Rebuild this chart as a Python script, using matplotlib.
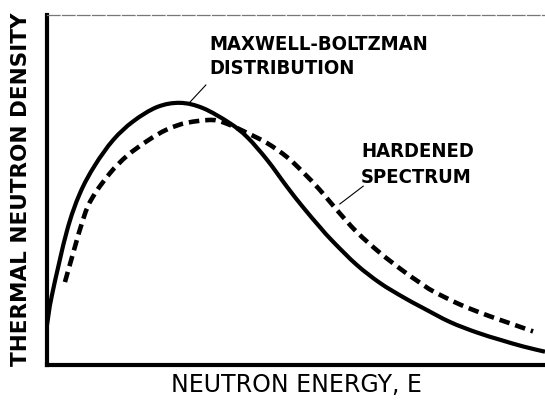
import matplotlib
matplotlib.use("Agg")
import matplotlib.pyplot as plt
from matplotlib.path import Path
from matplotlib.patches import PathPatch

# curves, in axis units (0-100 both ways)
mb_x = [0, 1.0, 4.0, 6.6, 9.6, 13.3, 17.3, 22.1, 26.7, 31.3, 36.7, 40.2, 44.2,
        48.2, 51.4, 54.8, 57.4, 62.2, 66.9, 71.5, 75.5, 80.9, 86.3, 91.0, 95.6, 100]
mb_y = [11.4, 20.0, 38.3, 49.0, 57.0, 64.3, 69.6, 73.7, 74.9, 73.4, 69.1, 65.1, 58.6,
        50.9, 45.1, 39.4, 35.3, 28.6, 23.4, 19.4, 16.3, 12.3, 9.3, 7.2, 5.3, 3.8]

hard_x = [3.6, 7.2, 9.2, 12.7, 16.1, 20.1, 24.1, 28.1, 33.3, 36.7, 40.2, 44.2, 48.2,
          51.4, 54.8, 58.2, 62.2, 66.9, 71.5, 74.9, 77.5, 82.9, 88.4, 93.0, 97.6]
hard_y = [23.7, 41.4, 48.0, 54.9, 59.8, 64.0, 67.3, 69.2, 70.0, 68.6, 66.3, 63.4, 59.4,
          55.1, 50.0, 44.3, 38.0, 32.0, 26.9, 23.5, 21.1, 17.3, 14.2, 11.9, 9.6]

mb_label = ["MAXWELL-BOLTZMAN", "DISTRIBUTION"]
hard_label = ["HARDENED", "SPECTRUM"]
x_label = "NEUTRON ENERGY, E"
y_label = "THERMAL NEUTRON DENSITY"


def smooth_path(xs, ys):
    # catmull-rom through the read points, drawn as cubic bezier pieces
    pts = list(zip(xs, ys))
    verts = [pts[0]]
    codes = [Path.MOVETO]
    for i in range(len(pts) - 1):
        p0 = pts[i - 1] if i > 0 else pts[i]
        p1, p2 = pts[i], pts[i + 1]
        p3 = pts[i + 2] if i + 2 < len(pts) else pts[i + 1]
        c1 = (p1[0] + (p2[0] - p0[0]) / 6, p1[1] + (p2[1] - p0[1]) / 6)
        c2 = (p2[0] - (p3[0] - p1[0]) / 6, p2[1] - (p3[1] - p1[1]) / 6)
        verts += [c1, c2, p2]
        codes += [Path.CURVE4] * 3
    return Path(verts, codes)


W, H = 545, 403
fig = plt.figure(figsize=(W / 100, H / 100), dpi=100)
ax = fig.add_axes([47 / W, 1 - 365 / H, 498 / W, 350 / H])
ax.set_xlim(0, 100)
ax.set_ylim(0, 100)

ax.add_patch(PathPatch(smooth_path(mb_x, mb_y), fill=False, color="black",
                       lw=3.0, joinstyle="round", clip_on=False))
ax.add_patch(PathPatch(smooth_path(hard_x, hard_y), fill=False, color="black",
                       lw=3.3, linestyle=(0, (2.3, 1.3))))

txt = dict(family="DejaVu Sans", fontstretch="condensed", fontweight="bold",
           fontsize=14.5, color="black", va="baseline", ha="left")
ax.text(32.7, 90.0, mb_label[0], **txt)
ax.text(32.7, 83.1, mb_label[1], **txt)
ax.text(63.1, 59.4, hard_label[0], **txt)
ax.text(63.1, 52.0, hard_label[1], **txt)

# leader lines
ax.plot([28.7, 31.9], [75.1, 80.0], color="black", lw=0.8)
ax.plot([58.8, 63.5], [46.0, 51.1], color="black", lw=0.8)

ax.set_xticks([])
ax.set_yticks([])
ax.spines["right"].set_visible(False)
ax.spines["left"].set_linewidth(3.0)
ax.spines["bottom"].set_linewidth(3.0)
ax.spines["top"].set_linewidth(0.9)
ax.spines["top"].set_color("#777777")
ax.spines["top"].set_linestyle((0, (10, 2)))

fig.text(296 / W, 1 - 392 / H, x_label, ha="center", va="baseline",
         family="DejaVu Sans", fontsize=17)
fig.text(21 / W, 1 - 189 / H, y_label, ha="center", va="center", rotation=90,
         family="DejaVu Sans", fontweight="bold", fontsize=15.5)

fig.savefig("out.png", dpi=100)
